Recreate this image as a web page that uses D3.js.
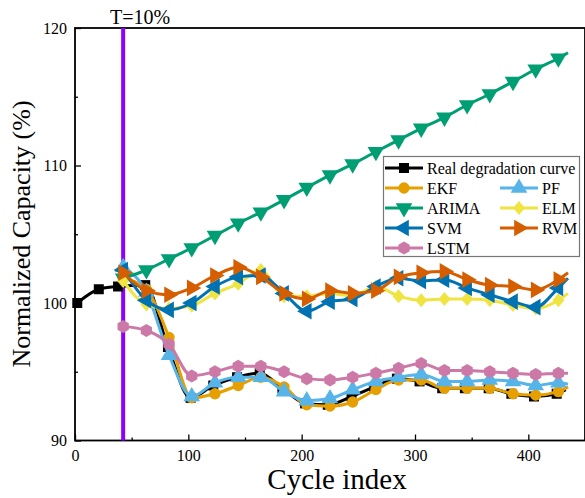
<!DOCTYPE html>
<html>
<head>
<meta charset="utf-8">
<script src="https://cdn.jsdelivr.net/npm/d3@7"></script>
<style>
  body { margin: 0; background: #fff; }
  text { font-family: "Liberation Serif", "Times New Roman", serif; fill: #000; }
</style>
</head>
<body>
<svg id="chart" width="585" height="498"></svg>
<script>
// real degradation data (cycle, capacity %)
var realX = [2, 21, 38, 62, 82, 102, 122, 143, 163, 183, 203, 223, 244, 264, 284, 304, 324, 344, 365, 385, 405, 425, 433];
var realY = [100.0, 101.0, 101.2, 101.3, 96.8, 93.1, 94.0, 94.6, 94.9, 93.8, 92.7, 92.6, 93.2, 93.9, 94.5, 94.3, 93.8, 93.8, 93.8, 93.4, 93.2, 93.4, 93.7];

// prediction cycles (starting at T), last point is line end only
var predX = [42.5, 63, 83, 103, 123.5, 144, 164, 184.5, 204.5, 225, 245, 265.5, 285.5, 305.5, 326, 346, 366, 386.5, 406.5, 426.5, 435];

var ekf   = [101.8, 101.0, 97.5, 93.1, 93.4, 94.0, 94.6, 93.9, 92.6, 92.5, 92.8, 93.7, 94.4, 94.4, 93.8, 93.8, 93.8, 93.4, 93.3, 93.55, 93.9];
var pf    = [102.6, 100.8, 96.2, 93.2, 94.2, 94.6, 94.6, 93.55, 92.9, 93.05, 93.7, 94.3, 94.6, 94.8, 94.3, 94.3, 94.4, 94.3, 94.0, 94.2, 94.1];
var arima = [101.8, 102.4, 103.2, 104.0, 104.9, 105.8, 106.6, 107.5, 108.4, 109.3, 110.1, 111.0, 111.85, 112.7, 113.5, 114.4, 115.2, 116.1, 117.0, 117.8, 118.2];
var elm   = [101.6, 99.9, 99.6, 99.8, 100.7, 101.4, 102.4, 100.5, 100.5, 100.7, 100.5, 101.2, 100.5, 100.2, 100.3, 100.3, 100.2, 99.85, 99.6, 100.2, 100.7];
var svm   = [102.4, 100.2, 99.5, 100.0, 101.2, 101.9, 102.0, 100.7, 99.4, 100.1, 100.3, 101.2, 101.8, 101.6, 101.7, 101.1, 100.6, 100.1, 99.7, 101.1, 101.8];
var rvm   = [102.2, 100.9, 100.6, 101.1, 102.0, 102.6, 101.9, 100.7, 100.3, 100.9, 100.7, 100.9, 101.9, 102.2, 102.3, 101.7, 101.3, 101.2, 100.95, 101.7, 102.2];
var lstm  = [98.3, 98.0, 97.0, 94.7, 95.0, 95.4, 95.4, 95.0, 94.5, 94.4, 94.6, 94.9, 95.25, 95.6, 95.1, 95.1, 95.0, 94.9, 94.8, 94.9, 94.9];

var thresholdCycle = 42.5;
var xMajor = [0, 100, 200, 300, 400];
var xMinor = [50, 150, 250, 350, 450];
var yMajor = [90, 100, 110, 120];
var yMinor = [95, 105, 115];

var series = [
  {name: "Real degradation curve", xs: realX, ys: realY, color: "#000000", marker: "square"},
  {name: "EKF",   xs: predX, ys: ekf,   color: "#E69F00", marker: "circle"},
  {name: "PF",    xs: predX, ys: pf,    color: "#56B4E9", marker: "up"},
  {name: "ARIMA", xs: predX, ys: arima, color: "#009E73", marker: "down"},
  {name: "ELM",   xs: predX, ys: elm,   color: "#F0E442", marker: "diamond"},
  {name: "SVM",   xs: predX, ys: svm,   color: "#0072B2", marker: "left"},
  {name: "RVM",   xs: predX, ys: rvm,   color: "#D55E00", marker: "right"},
  {name: "LSTM",  xs: predX, ys: lstm,  color: "#CC79A7", marker: "hex"}
];

var svg = d3.select("#chart");

var x = d3.scaleLinear().domain([0, 450]).range([75, 585]);
var y = d3.scaleLinear().domain([90, 120]).range([440.5, 28]);

// marker shapes
function markerPath(kind) {
  var tri = d3.symbol().type(d3.symbolTriangle).size(120)();
  if (kind == "square") return d3.symbol().type(d3.symbolSquare).size(100)();
  if (kind == "circle") return d3.symbol().type(d3.symbolCircle).size(100)();
  if (kind == "diamond") return "M0,-7L6,0L0,7L-6,0Z";
  if (kind == "hex") {
    var r = 6.5, pts = [];
    for (var i = 0; i < 6; i++) {
      var a = Math.PI / 3 * i - Math.PI / 2;
      pts.push([r * Math.cos(a), r * Math.sin(a)]);
    }
    return "M" + pts.join("L") + "Z";
  }
  return tri;
}
function markerRotate(kind) {
  if (kind == "down") return 180;
  if (kind == "right") return 90;
  if (kind == "left") return -90;
  return 0;
}

// axes (inward ticks)
svg.append("g")
  .attr("transform", "translate(0,440.5)")
  .call(d3.axisBottom(x).tickValues(xMajor).tickSizeInner(-6).tickSizeOuter(0).tickPadding(9))
  .call(function(g) { g.select(".domain").remove(); })
  .selectAll("text").style("font-size", "16px").style("font-family", "Liberation Serif");

svg.append("g")
  .attr("transform", "translate(0,440.5)")
  .call(d3.axisBottom(x).tickValues(xMinor).tickSizeInner(-3).tickSizeOuter(0).tickFormat(""))
  .call(function(g) { g.select(".domain").remove(); });

svg.append("g")
  .attr("transform", "translate(75,0)")
  .call(d3.axisLeft(y).tickValues(yMajor).tickSizeInner(-6).tickSizeOuter(0).tickPadding(8))
  .call(function(g) { g.select(".domain").remove(); })
  .selectAll("text").style("font-size", "16px").style("font-family", "Liberation Serif");

svg.append("g")
  .attr("transform", "translate(75,0)")
  .call(d3.axisLeft(y).tickValues(yMinor).tickSizeInner(-3).tickSizeOuter(0).tickFormat(""))
  .call(function(g) { g.select(".domain").remove(); });

svg.selectAll(".tick line").attr("stroke", "#000").attr("stroke-width", 1.3);

// frame
svg.append("rect")
  .attr("x", x(0)).attr("y", y(120))
  .attr("width", x(450) - x(0)).attr("height", y(90) - y(120))
  .attr("fill", "none").attr("stroke", "#000").attr("stroke-width", 1.8);

// threshold line
svg.append("line")
  .attr("x1", x(thresholdCycle)).attr("x2", x(thresholdCycle))
  .attr("y1", y(120)).attr("y2", y(90))
  .attr("stroke", "#8C00FF").attr("stroke-width", 4);

svg.append("text")
  .attr("x", 110).attr("y", 24)
  .style("font-size", "20px")
  .text("T=10%");

// lines and markers
var line = d3.line()
  .x(function(d) { return x(d[0]); })
  .y(function(d) { return y(d[1]); })
  .curve(d3.curveMonotoneX);

series.forEach(function(s) {
  var pts = s.xs.map(function(v, i) { return [v, s.ys[i]]; });
  var g = svg.append("g");
  g.append("path")
    .datum(pts)
    .attr("d", line)
    .attr("fill", "none")
    .attr("stroke", s.color)
    .attr("stroke-width", 3);
  g.selectAll("path.mk")
    .data(pts.slice(0, pts.length - 1))
    .enter()
    .append("path")
    .attr("class", "mk")
    .attr("d", markerPath(s.marker))
    .attr("transform", function(d) {
      return "translate(" + x(d[0]) + "," + y(d[1]) + ") rotate(" + markerRotate(s.marker) + ")";
    })
    .attr("fill", s.color);
});

// legend
var legend = svg.append("g");
legend.append("rect")
  .attr("x", 383.5).attr("y", 156.5)
  .attr("width", 196).attr("height", 100)
  .attr("fill", "#fff").attr("stroke", "#777").attr("stroke-width", 1.2);

var legendPos = [
  [385, 168], [385, 188], [500, 188], [385, 208], [500, 208], [385, 228], [500, 228], [385, 248]
];
series.forEach(function(s, i) {
  var p = legendPos[i];
  var item = legend.append("g").attr("transform", "translate(" + p[0] + "," + p[1] + ")");
  item.append("line").attr("x1", 0).attr("x2", 38).attr("y1", 0).attr("y2", 0)
    .attr("stroke", s.color).attr("stroke-width", 3);
  item.append("path").attr("d", markerPath(s.marker))
    .attr("transform", "translate(19,0) rotate(" + markerRotate(s.marker) + ")")
    .attr("fill", s.color);
  item.append("text").attr("x", 42).attr("y", 6)
    .style("font-size", "16px")
    .text(s.name);
});

// axis titles
svg.append("text")
  .attr("x", 337).attr("y", 489)
  .attr("text-anchor", "middle")
  .style("font-size", "29px")
  .text("Cycle index");

svg.append("text")
  .attr("transform", "translate(30,234) rotate(-90)")
  .attr("text-anchor", "middle")
  .style("font-size", "26px")
  .text("Normalized Capacity (%)");
</script>
</body>
</html>
